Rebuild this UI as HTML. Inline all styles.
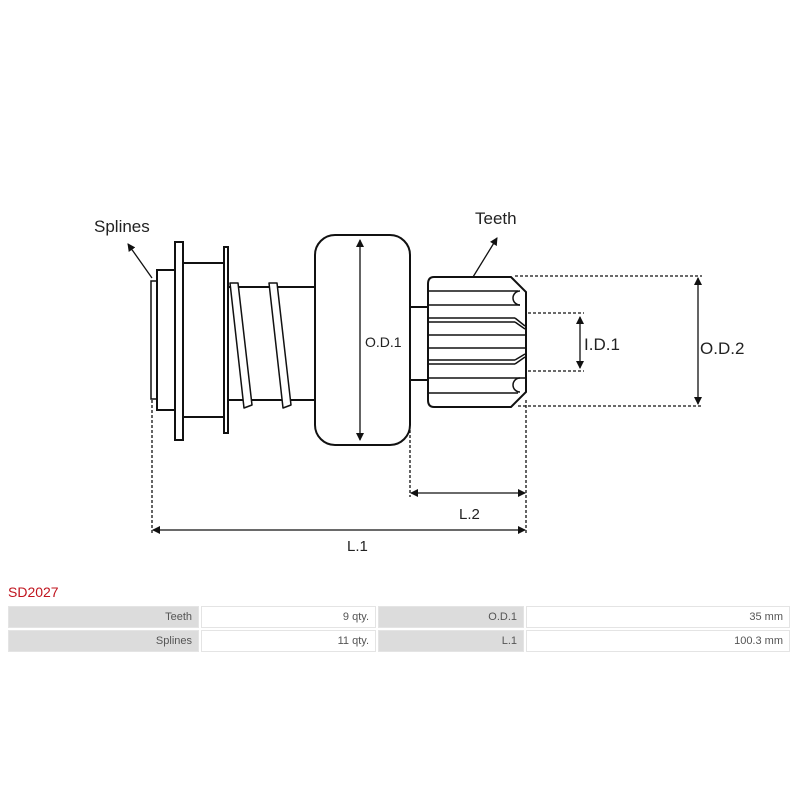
<!DOCTYPE html>
<html><head><meta charset="utf-8"><style>
body{margin:0;background:#fff;width:800px;height:800px;overflow:hidden;font-family:"Liberation Sans",sans-serif}
.t{position:absolute;left:6px;top:604px;border-collapse:separate;border-spacing:2px;width:786px;font-size:11px;color:#555;table-layout:fixed}
.t td{height:20px;padding:0 6px 0 0;text-align:right;border:1px solid #e4e4e4;line-height:20px}
.g{background:#dcdcdc}
</style></head><body>
<svg width="800" height="800" style="position:absolute;left:0;top:0" font-family="Liberation Sans" fill="none" stroke="#111">
<defs><marker id="a" markerWidth="8" markerHeight="8" refX="7" refY="4" orient="auto-start-reverse" markerUnits="userSpaceOnUse"><path d="M0,0L8,4L0,8z" fill="#111" stroke="none"/></marker></defs>
<g stroke-width="2">
<rect x="151" y="281" width="6" height="118" stroke-width="1.5"/>
<rect x="157" y="270" width="18" height="140"/>
<rect x="175" y="242" width="8" height="198"/>
<rect x="183" y="263" width="41" height="154"/>
<rect x="224" y="247" width="4" height="186"/>
<rect x="228" y="287" width="87" height="113"/>
<rect x="315" y="235" width="95" height="210" rx="20"/>
<rect x="410" y="307" width="18" height="73"/>
<path d="M428,284 Q428,277 434,277 L511,277 L526,292 L526,392 L511,407 L434,407 Q428,407 428,400 Z"/>
</g>
<g stroke-width="1.5">
<path d="M230,283 l8,0 l14,122 l-8,3 z" fill="#fff" stroke-linejoin="round"/>
<path d="M269,283 l8,0 l14,122 l-8,3 z" fill="#fff" stroke-linejoin="round"/>
<line x1="428" y1="291" x2="518" y2="291"/><line x1="428" y1="305" x2="520" y2="305"/>
<line x1="428" y1="318" x2="515" y2="318"/><line x1="428" y1="322" x2="515" y2="322"/><path d="M515,318 l10,8 M515,322 l10,7"/>
<line x1="428" y1="335" x2="525" y2="335"/><line x1="428" y1="348" x2="525" y2="348"/>
<line x1="428" y1="360" x2="515" y2="360"/><line x1="428" y1="364" x2="515" y2="364"/><path d="M515,364 l10,-7 M515,360 l10,-6"/>
<line x1="428" y1="378" x2="525" y2="378"/><line x1="428" y1="393" x2="518" y2="393"/>
<path d="M520,291 a7,7 0 0 0 0,14"/><path d="M520,378 a7,7 0 0 0 0,14"/>
</g>
<g stroke-width="1.3">
<line x1="360" y1="240" x2="360" y2="440" marker-start="url(#a)" marker-end="url(#a)"/>
<line x1="580" y1="317" x2="580" y2="368" marker-start="url(#a)" marker-end="url(#a)"/>
<line x1="698" y1="278" x2="698" y2="404" marker-start="url(#a)" marker-end="url(#a)"/>
<line x1="411" y1="493" x2="525" y2="493" marker-start="url(#a)" marker-end="url(#a)"/>
<line x1="153" y1="530" x2="525" y2="530" marker-start="url(#a)" marker-end="url(#a)"/>
<line x1="152" y1="278" x2="128" y2="244" marker-end="url(#a)"/>
<line x1="473" y1="277" x2="497" y2="238" marker-end="url(#a)"/>
</g>
<g stroke-width="1.3" stroke-dasharray="3,2">
<line x1="515" y1="276" x2="702" y2="276"/><line x1="518" y1="406" x2="702" y2="406"/>
<line x1="528" y1="313" x2="584" y2="313"/><line x1="528" y1="371" x2="584" y2="371"/>
<line x1="152" y1="400" x2="152" y2="534"/><line x1="526" y1="400" x2="526" y2="534"/><line x1="410" y1="430" x2="410" y2="497"/>
</g>
<g fill="#222" stroke="none">
<text x="94" y="232" font-size="17">Splines</text>
<text x="475" y="224" font-size="17">Teeth</text>
<text x="365" y="347" font-size="14">O.D.1</text>
<text x="584" y="350" font-size="17">I.D.1</text>
<text x="700" y="354" font-size="17">O.D.2</text>
<text x="459" y="519" font-size="15">L.2</text>
<text x="347" y="551" font-size="15">L.1</text>
<text x="8" y="597" font-size="14" fill="#c0141e">SD2027</text>
</g>
</svg>
<table class="t">
<colgroup><col style="width:191px"><col style="width:175px"><col style="width:146px"><col></colgroup>
<tr><td class="g">Teeth</td><td>9 qty.</td><td class="g">O.D.1</td><td>35 mm</td></tr>
<tr><td class="g">Splines</td><td>11 qty.</td><td class="g">L.1</td><td>100.3 mm</td></tr>
</table>
</body></html>
